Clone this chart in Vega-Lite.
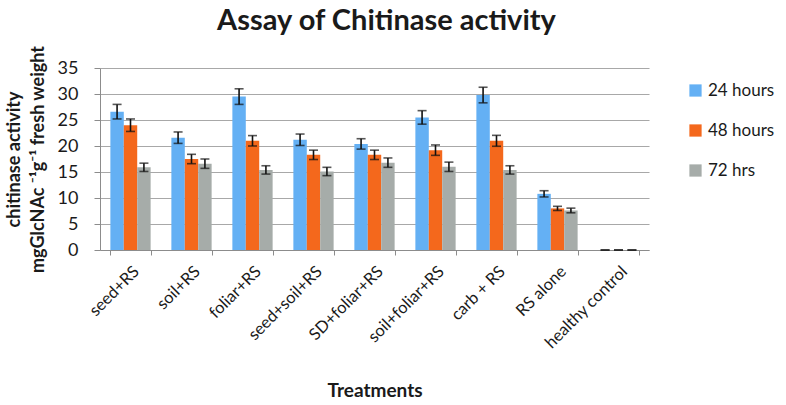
{
  "$schema": "https://vega.github.io/schema/vega-lite/v6.json",
  "autosize": "none",
  "width": 549,
  "height": 182,
  "padding": {"left": 100, "top": 68, "right": 137, "bottom": 155},
  "background": "white",
  "title": {"text": "Assay of Chitinase activity", "font": "Lato", "fontSize": 29, "fontWeight": "bold", "color": "#1a1a1a", "offset": 9, "dx": 12, "frame": "group", "anchor": "middle"},
  "config": {"view": {"stroke": null}, "font": "Lato"},
  "data": {"values": [
    {"t": "seed+RS", "s": "24 hours", "v": 26.6, "e": 1.4},
    {"t": "seed+RS", "s": "48 hours", "v": 24.0, "e": 1.2},
    {"t": "seed+RS", "s": "72 hrs", "v": 15.9, "e": 0.8},
    {"t": "soil+RS", "s": "24 hours", "v": 21.6, "e": 1.1},
    {"t": "soil+RS", "s": "48 hours", "v": 17.5, "e": 0.9},
    {"t": "soil+RS", "s": "72 hrs", "v": 16.6, "e": 0.9},
    {"t": "foliar+RS", "s": "24 hours", "v": 29.5, "e": 1.5},
    {"t": "foliar+RS", "s": "48 hours", "v": 21.0, "e": 1.0},
    {"t": "foliar+RS", "s": "72 hrs", "v": 15.4, "e": 0.8},
    {"t": "seed+soil+RS", "s": "24 hours", "v": 21.2, "e": 1.1},
    {"t": "seed+soil+RS", "s": "48 hours", "v": 18.3, "e": 0.9},
    {"t": "seed+soil+RS", "s": "72 hrs", "v": 15.1, "e": 0.8},
    {"t": "SD+foliar+RS", "s": "24 hours", "v": 20.4, "e": 1.0},
    {"t": "SD+foliar+RS", "s": "48 hours", "v": 18.3, "e": 0.9},
    {"t": "SD+foliar+RS", "s": "72 hrs", "v": 16.8, "e": 0.9},
    {"t": "soil+foliar+RS", "s": "24 hours", "v": 25.5, "e": 1.3},
    {"t": "soil+foliar+RS", "s": "48 hours", "v": 19.2, "e": 1.0},
    {"t": "soil+foliar+RS", "s": "72 hrs", "v": 16.0, "e": 0.9},
    {"t": "carb + RS", "s": "24 hours", "v": 29.8, "e": 1.5},
    {"t": "carb + RS", "s": "48 hours", "v": 21.0, "e": 1.05},
    {"t": "carb + RS", "s": "72 hrs", "v": 15.4, "e": 0.8},
    {"t": "RS alone", "s": "24 hours", "v": 10.8, "e": 0.6},
    {"t": "RS alone", "s": "48 hours", "v": 8.0, "e": 0.4},
    {"t": "RS alone", "s": "72 hrs", "v": 7.6, "e": 0.45},
    {"t": "healthy control", "s": "24 hours", "v": 0, "e": 0},
    {"t": "healthy control", "s": "48 hours", "v": 0, "e": 0},
    {"t": "healthy control", "s": "72 hrs", "v": 0, "e": 0}
  ]},
  "encoding": {
    "x": {"field": "t", "type": "nominal", "sort": null,
      "scale": {"paddingInner": 0.34, "paddingOuter": 0.17},
      "axis": {"title": "Treatments", "titleFont": "Lato", "titleFontSize": 19, "titleFontWeight": "bold", "titleColor": "#1a1a1a", "titlePadding": 30,
        "labelAngle": -45, "labelFontSize": 16.5, "labelColor": "#1a1a1a", "labelPadding": 8,
        "tickBand": "extent", "tickSize": 5, "tickColor": "#8c8c8c", "domainColor": "#8c8c8c", "grid": false}},
    "xOffset": {"field": "s", "type": "nominal", "sort": ["24 hours", "48 hours", "72 hrs"]},
    "y": {"field": "v", "type": "quantitative",
      "scale": {"domain": [0, 35]},
      "axis": {"values": [0, 5, 10, 15, 20, 25, 30, 35], "labelOverlap": false,
        "title": ["chitinase activity", "mgGlcNAc ⁻¹g⁻¹ fresh weight"],
        "titleFont": "Lato", "titleFontSize": 18, "titleFontWeight": "bold", "titleColor": "#1a1a1a", "titleLineHeight": 24, "titlePadding": 10,
        "labelFontSize": 18, "labelColor": "#1a1a1a", "labelPadding": 16, "tickSize": 6, "tickColor": "#8c8c8c",
        "domainColor": "#8c8c8c", "gridColor": "#a8a8a8", "gridWidth": 1.2}}
  },
  "layer": [
    {
      "mark": {"type": "bar"},
      "encoding": {
        "color": {"field": "s", "type": "nominal",
          "scale": {"domain": ["24 hours", "48 hours", "72 hrs"], "range": ["#64B0F4", "#F4681C", "#A6ACA9"]},
          "legend": {"title": null, "orient": "none", "legendX": 587, "legendY": 14, "symbolType": "square", "symbolSize": 150,
            "symbolStrokeWidth": 0, "labelFontSize": 17, "labelColor": "#1a1a1a", "rowPadding": 22, "labelOffset": 4}}
      }
    },
    {
      "mark": {"type": "errorbar", "ticks": {"size": 9, "thickness": 1.6, "color": "#111111"}, "thickness": 1.6, "color": "#111111"},
      "encoding": {
        "yError": {"field": "e"}
      }
    }
  ]
}
